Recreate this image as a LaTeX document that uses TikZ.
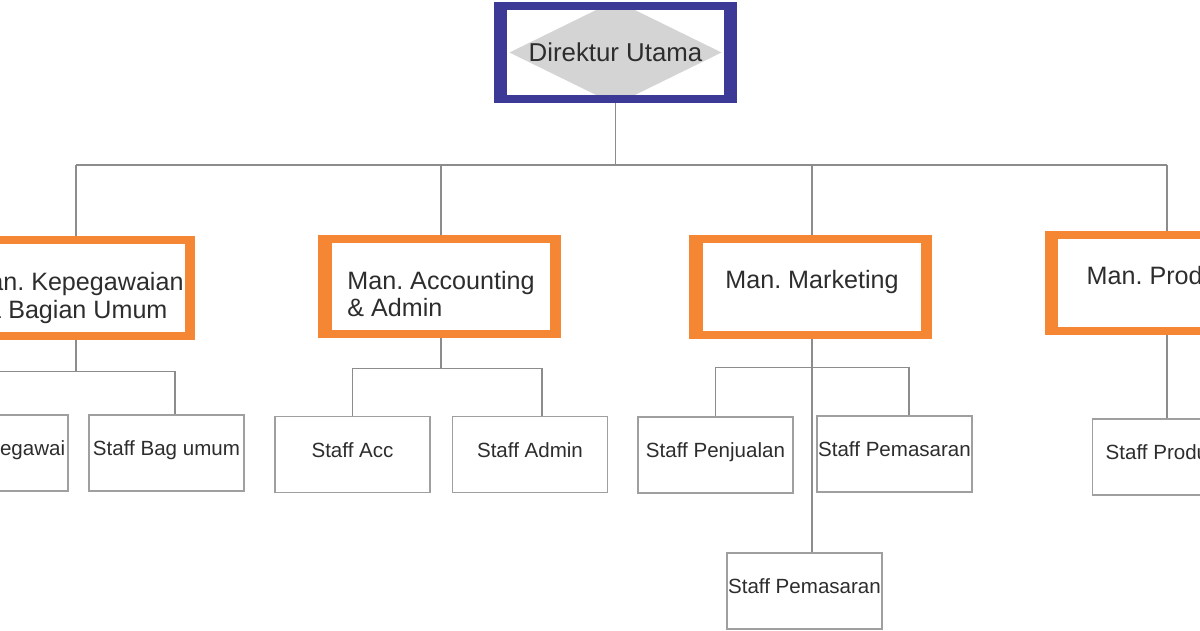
\documentclass[tikz,border=0pt]{standalone}
\usepackage{fontspec}
\setmainfont{Liberation Sans}
\frenchspacing
\usetikzlibrary{calc,backgrounds}
\definecolor{mgrorange}{RGB}{245,135,52}
\definecolor{dirblue}{RGB}{60,58,150}
\definecolor{diagray}{RGB}{212,212,212}
\definecolor{lngray}{RGB}{140,140,140}
\definecolor{txtgray}{RGB}{45,45,45}
\tikzset{
  conn/.style={lngray,line width=0.65pt},
  dirbox/.style={fill=white,inner sep=0pt,minimum width=4.34cm,minimum height=1.7cm,
    font=\fontsize{14.7}{17}\selectfont,text=txtgray,
    path picture={\fill[diagray]
      ($(path picture bounding box.center)+(-106,0)$) --
      ($(path picture bounding box.center)+(0,-52)$) --
      ($(path picture bounding box.center)+(106,0)$) --
      ($(path picture bounding box.center)+(0,52)$) -- cycle;}},
  mgrbox/.style={fill=white,inner sep=0pt,minimum width=4.36cm,minimum height=1.76cm,
    align=left,font=\fontsize{14.3}{15.4}\selectfont,text=txtgray,
    text height=0.04cm,text depth=0pt},
  mgrtwo/.style={mgrbox,text height=1.2cm},
  staffbox/.style={draw=gray!75,line width=0.6pt,fill=white,inner sep=0pt,
    minimum width=3.1cm,minimum height=1.52cm,text height=0.1cm,text depth=0pt,
    font=\fontsize{11.7}{14}\selectfont,text=txtgray}
}
\begin{document}
\begin{tikzpicture}[x=0.02cm,y=-0.02cm]
\useasboundingbox (0,0) rectangle (1200,630);
\clip (0,0) rectangle (1200,630);
\node[dirbox] (dir) at (615.5,52.5) {Direktur Utama};
\node[mgrtwo,align=center] (kep) at (76,288) {Man. Kepegawaian\\\& Bagian Umum};
\node[mgrtwo,minimum height=1.74cm] (acc) at (441,286.5) {Man. Accounting\\\& Admin};
\node[mgrbox] (mkt) at (812,287) {Man. Marketing};
\node[mgrbox] (prd) at (1167,283) {Man. Produksi};
\node[staffbox] (skp) at (-9.5,453) {Staff Kepegawai};
\node[staffbox] (sbu) at (166.5,453) {Staff Bag umum};
\node[staffbox] (sac) at (352.5,454.5) {Staff Acc};
\node[staffbox] (sad) at (530,454.5) {Staff Admin};
\node[staffbox] (spj) at (715.5,455) {Staff Penjualan};
\node[staffbox] (spm) at (894.5,454) {Staff Pemasaran};
\node[staffbox] (spm2) at (804.5,591) {Staff Pemasaran};
\node[staffbox] (sprd) at (1169.5,457) {Staff Produksi};
\begin{scope}[on background layer]
  \coordinate (bus) at (0,165);
  \draw[conn] (dir.south) -- (dir.south |- bus)
    (kep.north |- bus) -- (prd.north |- bus);
  \foreach \n in {kep,acc,mkt,prd}
    \draw[conn] (\n.north |- bus) -- (\n.north);
  % branches to the staff
  \draw[conn] (kep.south) -- ++(0,39) coordinate (kepbr)
    (skp.north) |- (kepbr) -| ($(sbu.north)+(8.5,0)$);
  \draw[conn] (acc.south) -- ++(0,38) coordinate (accbr)
    (sac.north) |- (accbr) -| ($(sad.north)+(12,0)$);
  \draw[conn] (mkt.south) -- (mkt.south |- spm2.north)
    (spj.north) |- ($(mkt.south)+(0,36)$) -| ($(spm.north)+(14.5,0)$);
  \draw[conn] (prd.south) -- (prd.south |- sprd.north);
  \foreach \n/\c/\l/\r in {dir/dirblue/13/13,kep/mgrorange/13/10,acc/mgrorange/14/11,
      mkt/mgrorange/14/11,prd/mgrorange/13/11}
    \fill[\c] ($(\n.north west)+(-\l,-8)$) rectangle ($(\n.south east)+(\r,8)$);
\end{scope}
\end{tikzpicture}
\end{document}
